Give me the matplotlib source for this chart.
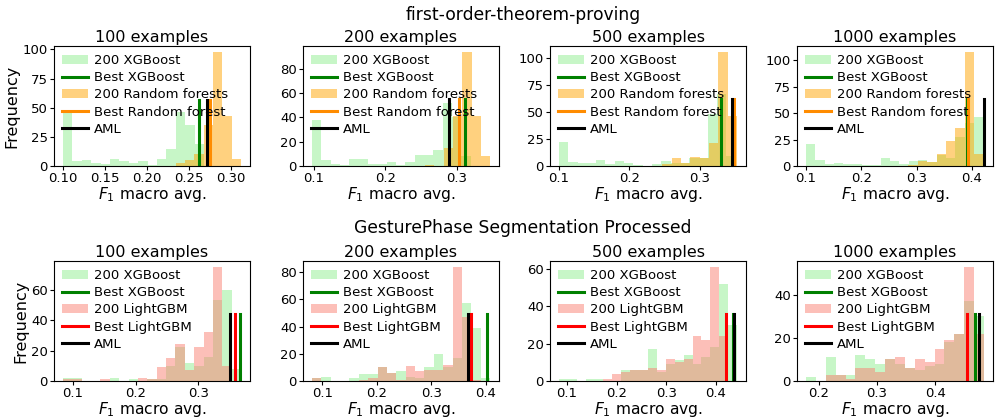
import numpy as np
import matplotlib
matplotlib.use("Agg")
import matplotlib.pyplot as plt
from matplotlib.ticker import MaxNLocator

titles = ["100 examples", "200 examples", "500 examples", "1000 examples"]

# first-order-theorem-proving: 200 XGBoost / 200 Random forests (bin counts + value range)
fotp_xgb_counts = [
    [47, 4, 5, 3, 2, 6, 4, 3, 4, 1, 6, 15, 46, 35, 19],
    [38, 5, 2, 1, 6, 6, 2, 2, 3, 1, 3, 9, 9, 13, 52, 40, 8],
    [22, 4, 3, 3, 6, 2, 5, 3, 1, 0, 2, 5, 3, 3, 7, 7, 48, 67, 9],
    [21, 6, 2, 3, 2, 2, 1, 1, 8, 5, 2, 5, 6, 4, 10, 8, 27, 41, 46],
]
fotp_xgb_range = [(0.100, 0.268), (0.097, 0.320), (0.100, 0.351), (0.100, 0.421)]
fotp_rf_counts = [
    [3, 5, 10, 35, 98, 43, 6],
    [1, 0, 15, 41, 94, 41, 8],
    [2, 7, 3, 8, 7, 21, 106, 46],
    [1, 5, 4, 11, 24, 36, 108, 11],
]
fotp_rf_range = [(0.234, 0.312), (0.256, 0.347), (0.247, 0.353), (0.285, 0.421)]
fotp_best_xgb = [0.262, 0.312, 0.330, 0.391]
fotp_best_rf = [0.275, 0.303, 0.348, 0.393]
fotp_aml = [0.272, 0.290, 0.346, 0.422]
fotp_line_h = [57, 55, 62, 63]

# GesturePhase Segmentation Processed: 200 XGBoost / 200 LightGBM on shared bins
gest_range = [(0.084, 0.368), (0.081, 0.408), (0.0835, 0.443), (0.178, 0.484)]
gest_xgb_counts = [
    [2, 2, 0, 0, 0, 2, 0, 1, 0, 1, 1, 10, 22, 12, 10, 16, 53, 60, 8],
    [2, 3, 0, 0, 2, 5, 5, 10, 6, 7, 3, 2, 10, 20, 10, 17, 57, 39, 2],
    [1, 1, 0, 1, 1, 0, 0, 6, 6, 6, 17, 5, 9, 11, 14, 9, 13, 18, 52, 30],
    [2, 0, 11, 3, 3, 12, 10, 8, 10, 8, 6, 5, 7, 8, 18, 22, 37, 30],
]
gest_lgbm_counts = [
    [1, 1, 0, 0, 1, 0, 0, 0, 2, 1, 9, 15, 24, 7, 22, 32, 75, 10, 0],
    [2, 0, 0, 0, 0, 1, 2, 10, 6, 1, 11, 7, 8, 8, 12, 84, 47, 1, 0],
    [0, 0, 0, 0, 0, 1, 4, 5, 6, 6, 7, 6, 12, 10, 12, 24, 22, 61, 24, 0],
    [0, 0, 3, 3, 1, 6, 6, 4, 10, 11, 6, 10, 9, 15, 19, 22, 53, 22],
]
gest_best_xgb = [0.367, 0.402, 0.434, 0.469]
gest_best_lgbm = [0.359, 0.373, 0.421, 0.455]
gest_aml = [0.350, 0.367, 0.437, 0.476]
gest_line_h = [44, 49, 36, 31]


def hist_from_counts(ax, counts, lo, hi, color, alpha, label):
    edges = np.linspace(lo, hi, len(counts) + 1)
    centers = (edges[:-1] + edges[1:]) / 2
    _, _, patches = ax.hist(centers, bins=edges, weights=counts,
                            color=color, alpha=alpha, label=label)
    return patches[0]


def draw_panel(ax, a_counts, a_range, b_counts, b_range, best_a, best_b, aml, h,
               b_name, b_hist_color, b_line_color, b_best_name):
    ha = hist_from_counts(ax, a_counts, *a_range, "lightgreen", 0.5, "200 XGBoost")
    la, = ax.plot([best_a, best_a], [0, h], color="green", lw=2.2)
    hb = hist_from_counts(ax, b_counts, *b_range, b_hist_color, 0.5, b_name)
    lb, = ax.plot([best_b, best_b], [0, h], color=b_line_color, lw=2.2)
    lc, = ax.plot([aml, aml], [0, h], color="black", lw=2.2)
    ax.legend([ha, la, hb, lb, lc],
              ["200 XGBoost", "Best XGBoost", b_name, b_best_name, "AML"],
              loc="upper left", frameon=False, fontsize=9.5, labelspacing=0.32,
              borderaxespad=0.3, borderpad=0.3, handletextpad=0.45)
    steps = [1, 2, 2.5, 5, 10]
    ax.xaxis.set_major_locator(MaxNLocator(nbins=5, steps=steps))
    ax.yaxis.set_major_locator(MaxNLocator(nbins=5, steps=steps))
    ax.tick_params(labelsize=9.5, length=3, pad=1.5)
    ax.set_xlabel("$F_1$ macro avg.", fontsize=11.2, labelpad=0)


W, H = 997, 420
fig = plt.figure(figsize=(W / 100, H / 100), dpi=100)
lefts = [54, 303, 550, 797]
aw, ah = 196, 120

for i in range(4):
    ax = fig.add_axes([lefts[i] / W, 1 - 166 / H, aw / W, ah / H])
    draw_panel(ax, fotp_xgb_counts[i], fotp_xgb_range[i], fotp_rf_counts[i], fotp_rf_range[i],
               fotp_best_xgb[i], fotp_best_rf[i], fotp_aml[i], fotp_line_h[i],
               "200 Random forests", "orange", "darkorange", "Best Random forest")
    ax.set_title(titles[i], fontsize=11.5, pad=3)
    if i == 0:
        ax.set_ylabel("Frequency", fontsize=11.5, labelpad=2)

for i in range(4):
    ax = fig.add_axes([lefts[i] / W, 1 - 381 / H, aw / W, ah / H])
    lo, hi = gest_range[i]
    draw_panel(ax, gest_xgb_counts[i], (lo, hi), gest_lgbm_counts[i], (lo, hi),
               gest_best_xgb[i], gest_best_lgbm[i], gest_aml[i], gest_line_h[i],
               "200 LightGBM", "salmon", "red", "Best LightGBM")
    ax.set_title(titles[i], fontsize=11.5, pad=3)
    if i == 0:
        ax.set_ylabel("Frequency", fontsize=11.5, labelpad=2)

fig.text(523 / W, 1 - 15 / H, "first-order-theorem-proving", ha="center", va="center", fontsize=12.3)
fig.text(523 / W, 1 - 228 / H, "GesturePhase Segmentation Processed", ha="center", va="center", fontsize=12.3)

fig.savefig("out.png", dpi=100)
